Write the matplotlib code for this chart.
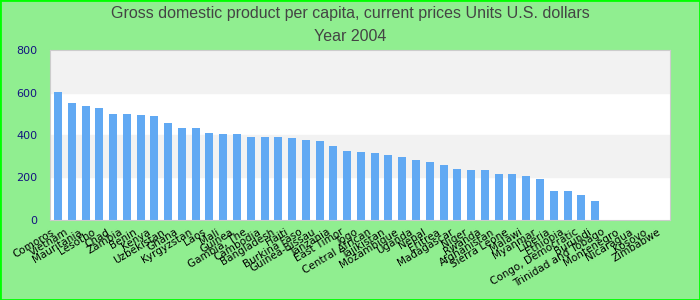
import matplotlib.pyplot as plt
from matplotlib.patches import Rectangle
from matplotlib.transforms import ScaledTranslation

countries = ["Comoros", "Vietnam", "Mauritania", "Lesotho", "Chad", "Zambia", "Benin",
             "Kenya", "Uzbekistan", "Ghana", "Kyrgyzstan", "Laos", "Mali", "Guinea",
             "Gambia, The", "Cambodia", "Bangladesh", "Haiti", "Burkina Faso",
             "Guinea-Bissau", "Tanzania", "East Timor", "Togo", "Central African",
             "Tajikistan", "Mozambique", "Uganda", "Nepal", "Eritrea", "Madagascar",
             "Niger", "Rwanda", "Afghanistan", "Sierra Leone", "Malawi", "Myanmar",
             "Liberia", "Ethiopia", "Congo, Democratic", "Burundi", "Trinidad and Tobago",
             "Montenegro", "Nicaragua", "Kosovo", "Zimbabwe"]
gdp = [603, 551, 537, 528, 500, 500, 495, 490, 457, 434, 434, 410, 405, 405, 391,
       391, 391, 386, 377, 372, 349, 325, 320, 316, 306, 297, 283, 273, 259, 240,
       236, 236, 217, 217, 207, 193, 137, 137, 118, 90, 0, 0, 0, 0, 0]
yticks = [0, 200, 400, 600, 800]

fig = plt.figure(figsize=(7, 3), dpi=100, facecolor='#90ee90')
ax = fig.add_axes([0.0714, 0.2667, 0.8857, 0.5666])
ax.set_facecolor('white')

for lo, hi in [(200, 400), (600, 800)]:
    ax.axhspan(lo, hi, color='#f2f2f2', zorder=0)

x = range(len(countries))
ax.bar(x, gdp, width=0.58, color='#61a9f3', zorder=2)

ax.set_xlim(-0.58, 44.44)
ax.set_ylim(0, 800)
ax.set_yticks(yticks)
ax.set_yticklabels([str(v) for v in yticks], color='#141480', fontsize=8)
ax.set_xticks(list(x))
ax.set_xticklabels(countries, rotation=31, ha='right', rotation_mode='anchor',
                   fontsize=7.5, color='black')
ax.tick_params(axis='both', length=0)
ax.tick_params(axis='y', pad=9)
ax.tick_params(axis='x', pad=5)
shift = ScaledTranslation(-7 / 100, 0, fig.dpi_scale_trans)
for lab in ax.get_xticklabels():
    lab.set_transform(lab.get_transform() + shift)
for s in ax.spines.values():
    s.set_color('#cccccc')

fig.text(0.5, 0.955, "Gross domestic product per capita, current prices Units U.S. dollars",
         ha='center', va='center', fontsize=11.5, color='#444444', family='Liberation Sans')
fig.text(0.5, 0.878, "Year 2004", ha='center', va='center', fontsize=11.5,
         color='#444444', family='Liberation Sans')

fig.patches.append(Rectangle((0, 0), 1, 1, transform=fig.transFigure, fill=False,
                             edgecolor='#00ff00', linewidth=2, zorder=10))

fig.savefig("out.png", dpi=100, facecolor=fig.get_facecolor())
